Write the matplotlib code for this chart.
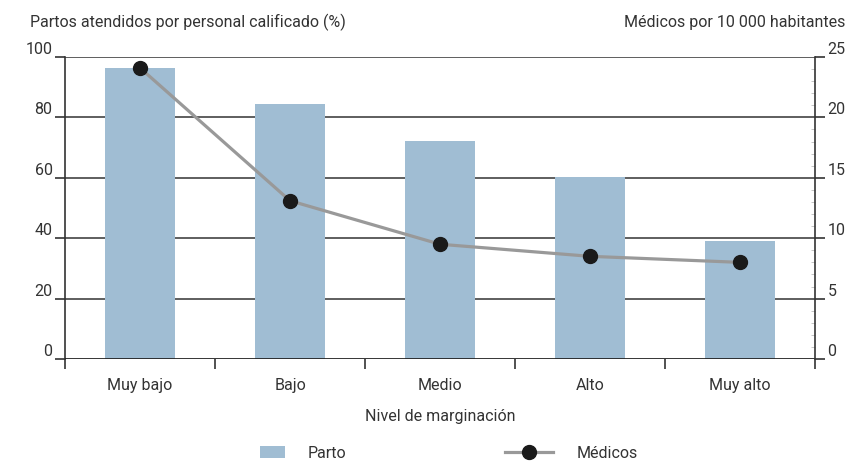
import numpy as np
import matplotlib.pyplot as plt
from matplotlib.ticker import MultipleLocator

# data
categories = ['Muy bajo', 'Bajo', 'Medio', 'Alto', 'Muy alto']
partos = [96.4, 84.4, 72.2, 60.3, 39.1]
medicos = [24.1, 13.1, 9.5, 8.5, 8.0]
left_ticks = [0, 20, 40, 60, 80, 100]
right_ticks = [0, 5, 10, 15, 20, 25]

plt.rcParams['font.family'] = ['Roboto', 'DejaVu Sans']
plt.rcParams['font.size'] = 11.5
txt = '#333333'

fig = plt.figure(figsize=(8.46, 4.63), dpi=100)
ax = fig.add_axes([65/846, 104/463, 750/846, 302/463])
x = np.arange(len(categories))

ax.bar(x, partos, width=0.47, color='#a0bdd3', zorder=2, label='Parto')
for v in left_ticks[1:]:
    ax.axhline(v, color='#333333', lw=1.1, zorder=1)
ax.axhline(0, color='#222222', lw=2, zorder=3)

ax.set_xlim(-0.5, len(categories) - 0.5)
ax.set_ylim(0, 100)
ax.set_yticks(left_ticks)
ax.set_yticklabels([str(v) for v in left_ticks], va='bottom', color=txt)
ax.set_xticks(np.arange(-0.5, len(categories)))
ax.set_xticklabels([])
ax.set_xticks(x, minor=True)
ax.set_xticklabels(categories, minor=True, color=txt)
ax.tick_params(axis='x', which='major', length=7, width=1.2, color='#333333', direction='out')
ax.tick_params(axis='x', which='minor', length=0, pad=14)
ax.tick_params(axis='y', length=7, width=1.2, color='#333333', pad=2)
for s in ['top', 'bottom', 'right']:
    ax.spines[s].set_visible(False)
ax.spines['left'].set_color('#333333')
ax.spines['left'].set_linewidth(1.2)
ax.set_xlabel('Nivel de marginación', color=txt, labelpad=11)

ax2 = ax.twinx()
ax2.plot(x, medicos, color='#999999', lw=2.3, marker='o', markersize=10,
         markerfacecolor='#1a1a1a', markeredgecolor='#1a1a1a', label='Médicos', zorder=4)
ax2.set_ylim(0, 25)
ax2.set_yticks(right_ticks)
ax2.set_yticklabels([str(v) for v in right_ticks], va='bottom', color=txt)
ax2.yaxis.set_minor_locator(MultipleLocator(1))
ax2.tick_params(axis='y', which='major', length=7, width=1.2, color='#333333', pad=2)
ax2.tick_params(axis='y', which='minor', length=3, width=0.6, color='#bbbbbb', direction='in')
for s in ['top', 'bottom', 'left']:
    ax2.spines[s].set_visible(False)
ax2.spines['right'].set_color('#333333')
ax2.spines['right'].set_linewidth(1.2)

fig.text(30/846, 1 - 22/463, 'Partos atendidos por personal calificado (%)',
         ha='left', va='center', color=txt)
fig.text(845/846, 1 - 22/463, 'Médicos por 10 000 habitantes',
         ha='right', va='center', color=txt)

h1, l1 = ax.get_legend_handles_labels()
h2, l2 = ax2.get_legend_handles_labels()
leg1 = fig.legend(h1, l1, loc='center left', bbox_to_anchor=(260/846, 1 - 453/463),
                  frameon=False, handlelength=1.55, handleheight=0.8, handletextpad=1.45,
                  borderpad=0, borderaxespad=0)
for t in leg1.get_texts():
    t.set_color(txt)
leg2 = fig.legend(h2, l2, loc='center left', bbox_to_anchor=(505/846, 1 - 453/463),
                  frameon=False, handlelength=3.0, handletextpad=1.5,
                  borderpad=0, borderaxespad=0)
for t in leg2.get_texts():
    t.set_color(txt)

fig.savefig('out.png', dpi=100)
